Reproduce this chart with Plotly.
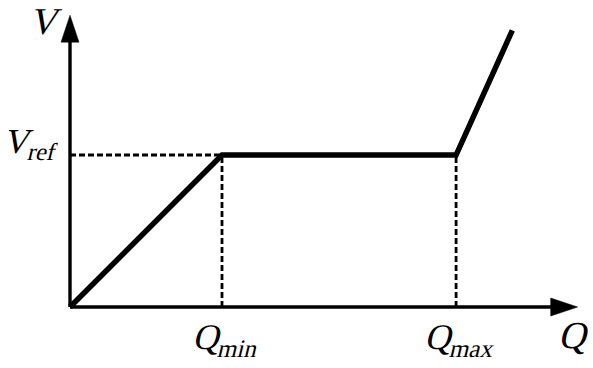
import plotly.graph_objects as go

# Characteristic: V rises linearly up to Q_min, stays at V_ref until Q_max, then rises steeply
q_min = 1.0
q_max = 2.54
v_ref = 1.0
curve_q = [0.0, q_min, q_max, 2.91]
curve_v = [0.0, v_ref, v_ref, 1.82]

# Axis extents (arrow tips) in data units
q_axis_end = 3.34
v_axis_end = 1.92

x_range = [-0.4605, 3.4408]
y_range = [-0.401, 2.0197]

FONT = "Liberation Serif"
INK = "black"

fig = go.Figure()

fig.add_trace(go.Scatter(
    x=curve_q, y=curve_v, mode="lines",
    line=dict(color=INK, width=5.5),
    hoverinfo="skip", showlegend=False,
))

shapes = []
# Dashed guide lines
dash = dict(color=INK, width=2.8, dash="6px,3px")
shapes.append(dict(type="line", xref="x", yref="y", x0=0, y0=v_ref, x1=q_min, y1=v_ref, line=dash))
shapes.append(dict(type="line", xref="x", yref="y", x0=q_min, y0=0, x1=q_min, y1=v_ref, line=dash))
shapes.append(dict(type="line", xref="x", yref="y", x0=q_max, y0=0, x1=q_max, y1=v_ref, line=dash))

# Axes
ax_line = dict(color=INK, width=3.4)
shapes.append(dict(type="line", xref="x", yref="y", x0=0, y0=0, x1=q_axis_end - 0.1, y1=0, line=ax_line))
shapes.append(dict(type="line", xref="x", yref="y", x0=0, y0=0, x1=0, y1=v_axis_end - 0.1, line=ax_line))

# Arrow heads (pixel-sized triangles anchored at the axis tips)
shapes.append(dict(
    type="path", xref="x", yref="y",
    xsizemode="pixel", ysizemode="pixel", xanchor=q_axis_end, yanchor=0,
    path="M0,0 L-27,9 L-27,-9 Z",
    fillcolor=INK, line=dict(color=INK, width=0.5),
))
shapes.append(dict(
    type="path", xref="x", yref="y",
    xsizemode="pixel", ysizemode="pixel", xanchor=0, yanchor=v_axis_end,
    path="M0,0 L9,-27 L-9,-27 Z",
    fillcolor=INK, line=dict(color=INK, width=0.5),
))

annotations = [
    dict(x=0, y=v_axis_end, xref="x", yref="y", text="V",
         xanchor="center", yanchor="middle", xshift=-29, yshift=-6,
         font=dict(size=38, family=FONT, color=INK), showarrow=False),
    dict(x=0, y=v_ref, xref="x", yref="y", text="V<sub>ref</sub>",
         xanchor="right", yanchor="middle", xshift=-15, yshift=12,
         font=dict(size=35, family=FONT, color=INK), showarrow=False),
    dict(x=q_min, y=0, xref="x", yref="y", text="Q<sub>min</sub>",
         xanchor="center", yanchor="top", xshift=0, yshift=-8,
         font=dict(size=36, family=FONT, color=INK), showarrow=False),
    dict(x=q_max, y=0, xref="x", yref="y", text="Q<sub>max</sub>",
         xanchor="center", yanchor="top", xshift=0, yshift=-8,
         font=dict(size=36, family=FONT, color=INK), showarrow=False),
    dict(x=q_axis_end, y=0, xref="x", yref="y", text="Q",
         xanchor="center", yanchor="top", xshift=-8, yshift=-5,
         font=dict(size=38, family=FONT, color=INK), showarrow=False),
]

fig.update_layout(
    width=593, height=368,
    margin=dict(l=0, r=0, t=0, b=0),
    paper_bgcolor="white", plot_bgcolor="white",
    xaxis=dict(range=x_range, visible=False, fixedrange=True),
    yaxis=dict(range=y_range, visible=False, fixedrange=True),
    shapes=shapes, annotations=annotations,
    showlegend=False,
)

# Slant the serif labels so they read as math italics
slant_js = """
var gd = document.getElementById('{plot_id}');
function slantLabels() {
  gd.querySelectorAll('text.annotation-text').forEach(function (t) {
    t.style.transformBox = 'fill-box';
    t.style.transformOrigin = '50% 100%';
    t.style.transform = 'skewX(-14deg)';
  });
}
slantLabels();
if (gd.on) { gd.on('plotly_afterplot', slantLabels); }
"""

fig.write_html("out.html", post_script=slant_js)
